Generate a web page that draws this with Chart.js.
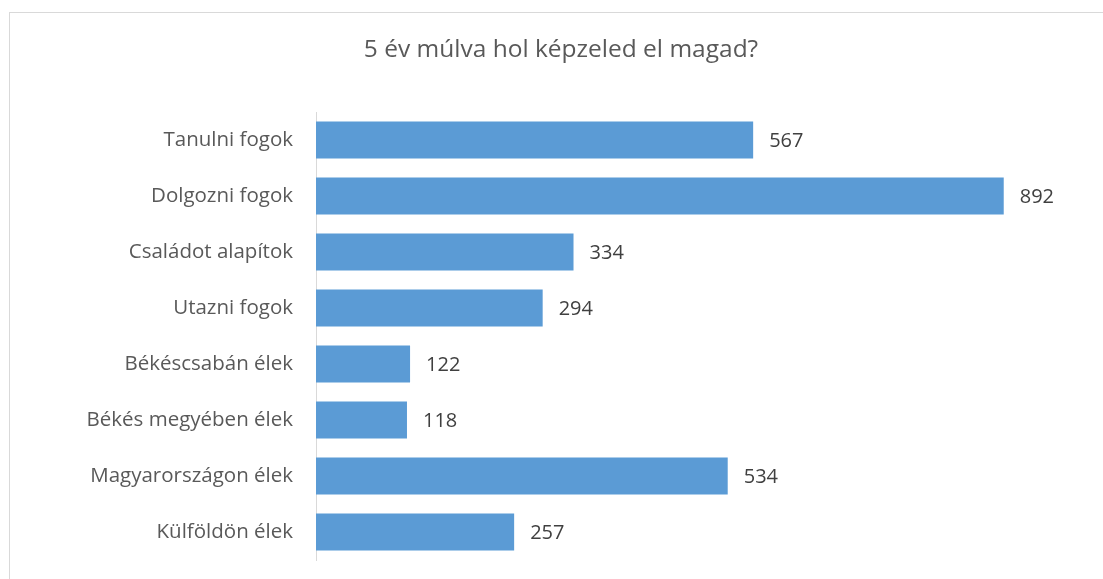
<!DOCTYPE html>
<html>
<head>
<meta charset="utf-8">
<script src="https://cdn.jsdelivr.net/npm/chart.js"></script>
<style>
  html, body { margin: 0; padding: 0; background: #fff; }
  #wrap { position: relative; width: 1103px; height: 579px; overflow: hidden; }
  #frame { position: absolute; left: 9px; top: 12px; width: 1200px; height: 700px; border: 1px solid #d9d9d9; box-sizing: border-box; }
  canvas { position: absolute; left: 0; top: 0; }
</style>
</head>
<body>
<div id="wrap">
  <div id="frame"></div>
  <canvas id="c" width="1103" height="579"></canvas>
</div>
<script>
const titleText = '5 év múlva hol képzeled el magad?';
const categories = ['Tanulni fogok', 'Dolgozni fogok', 'Családot alapítok', 'Utazni fogok', 'Békéscsabán élek', 'Békés megyében élek', 'Magyarországon élek', 'Külföldön élek'];
const values = [567, 892, 334, 294, 122, 118, 534, 257];

const FONT = "'Open Sans', 'Noto Sans', sans-serif";

const titlePlugin = {
  id: 'customTitle',
  afterDraw(chart) {
    const ctx = chart.ctx;
    ctx.save();
    ctx.font = '24.5px ' + FONT;
    ctx.fillStyle = '#595959';
    ctx.textAlign = 'center';
    ctx.textBaseline = 'alphabetic';
    ctx.fillText(titleText, 561, 57);
    ctx.restore();
  }
};

const labelPlugin = {
  id: 'dataLabels',
  afterDatasetsDraw(chart) {
    const ctx = chart.ctx;
    const meta = chart.getDatasetMeta(0);
    ctx.save();
    ctx.font = '20px ' + FONT;
    ctx.fillStyle = '#404040';
    ctx.textAlign = 'left';
    ctx.textBaseline = 'middle';
    meta.data.forEach((bar, i) => {
      ctx.fillText(String(values[i]), bar.x + 16, bar.y + 1);
    });
    ctx.restore();
  }
};

new Chart(document.getElementById('c'), {
  type: 'bar',
  data: {
    labels: categories,
    datasets: [{
      data: values,
      backgroundColor: '#5b9bd5',
      borderWidth: 0,
      categoryPercentage: 0.66,
      barPercentage: 1.0
    }]
  },
  options: {
    indexAxis: 'y',
    responsive: false,
    animation: false,
    layout: { padding: { top: 112, bottom: 19, right: 16, left: 0 } },
    plugins: { legend: { display: false }, title: { display: false }, tooltip: { enabled: false } },
    scales: {
      x: { display: false, min: 0, max: 1000 },
      y: {
        afterFit(scale) { scale.width = 316; scale.paddingTop = 0; scale.paddingBottom = 0; },
        grid: { display: false, drawTicks: false },
        border: { display: true, color: '#d9d9d9', width: 1 },
        ticks: { color: '#595959', font: { family: FONT, size: 20.5 }, padding: 23 }
      }
    }
  },
  plugins: [titlePlugin, labelPlugin]
});
</script>
</body>
</html>
